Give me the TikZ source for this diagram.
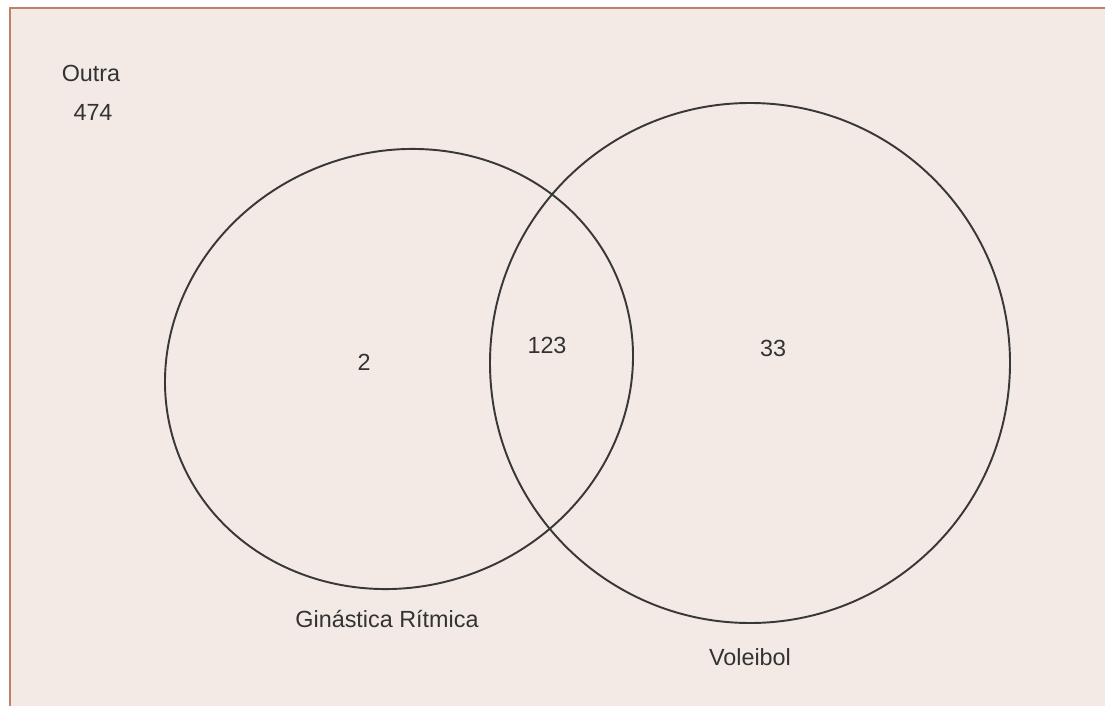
\documentclass[tikz,border=0pt]{standalone}
\usepackage{fontspec}
\setmainfont{Liberation Sans}
\definecolor{bgpink}{HTML}{F3EAE6}
\definecolor{frameline}{HTML}{C08068}
\definecolor{setline}{HTML}{383838}
\definecolor{txtgray}{HTML}{333333}
\begin{document}
\begin{tikzpicture}[x=0.02cm, y=-0.02cm,
  setcirc/.style={draw=setline, line width=1.1pt},
  lbl/.style={text=txtgray, font=\fontsize{13.3}{16}\selectfont, inner sep=0pt}]
 \useasboundingbox (0,0) rectangle (1105,706);

 %frame
 \draw[fill=bgpink, draw=frameline, line width=1.4pt] (10,8) rectangle (1112,714);

 %sets
 \draw[setcirc, rotate around={21.7:(399,369)}] (399,369) ellipse [x radius=236.5, y radius=217.3];
 \draw[setcirc] (750,363) circle [radius=260];

 %labels
 \foreach \x/\y/\name/\txt in {91/73/outra/Outra, 93/112/nout/474, 364/362/ngin/2,
        547/345/nboth/123, 773/348/nvol/33, 387/619/gin/Ginástica Rítmica, 750/657/vol/Voleibol} {
         \node[lbl] (\name) at (\x,\y) {\txt};
 }

\end{tikzpicture}
\end{document}
